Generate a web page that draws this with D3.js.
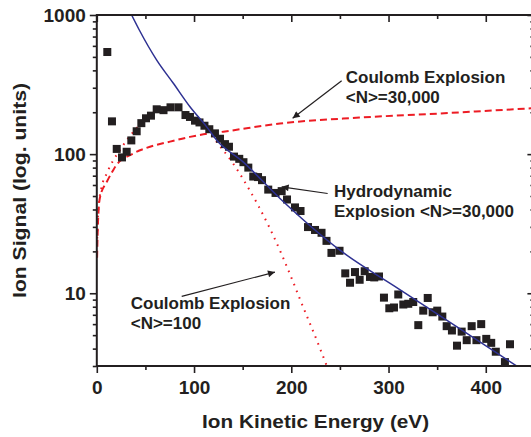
<!DOCTYPE html>
<html>
<head>
<meta charset="utf-8">
<script src="https://cdn.jsdelivr.net/npm/d3@7/dist/d3.min.js"></script>
<style>
  html, body { margin: 0; padding: 0; background: #fff; }
  svg text { font-family: "Liberation Sans", Arial, Helvetica, sans-serif; font-weight: bold; fill: #231f20; }
</style>
</head>
<body>
<svg id="chart" width="531" height="437"></svg>
<script>
// Measured ion signal vs. kinetic energy (eV)
const energy = [10.8, 15.6, 20.5, 25.9, 30.7, 35.5, 41.0, 45.8, 50.6, 55.7, 61.6, 68.6, 75.8, 84.0,
  91.2, 95.8, 101.0, 105.6, 110.7, 115.7, 121.5, 126.7, 131.8, 135.9, 141.1, 146.5, 150.8, 155.8,
  160.9, 165.8, 169.9, 176.3, 183.8, 190.1, 195.6, 203.8, 209.5, 217.2, 224.4, 231.1, 236.2, 241.3,
  249.6, 255.5, 260.4, 265.5, 270.3, 275.5, 280.9, 285.3, 290.2, 295.3, 300.8, 305.6, 310.0, 315.2,
  320.3, 325.4, 330.6, 335.7, 340.3, 345.4, 350.1, 355.3, 359.8, 365.2, 370.4, 375.2, 380.4, 385.5,
  390.4, 395.3, 400.5, 405.6, 410.3, 419.7, 424.9];
const signal = [542, 172, 109, 94.7, 104, 125.5, 146, 167, 181, 189, 210, 207, 217, 217,
  191, 185, 174, 169, 160, 151, 141, 129, 118, 113, 96, 92.5, 87.5, 80,
  69, 68.4, 65, 55.6, 52.6, 54.2, 47.2, 41.4, 39, 29.9, 28.5, 27.2, 23.8, 19.5,
  20.2, 13.9, 11.9, 14.2, 12.5, 14.4, 13.1, 13.0, 13.2, 9.3, 7.8, 7.9, 9.8, 8.3,
  8.4, 8.65, 5.9, 7.5, 9.25, 7.3, 7.5, 6.8, 5.8, 5.4, 4.2, 5.3, 4.6, 5.8,
  4.6, 6.0, 4.7, 4.4, 3.8, 3.2, 4.3];

// Hydrodynamic explosion model, <N>=30,000
const hydroE = [35.8, 43.7, 61.6, 78.7, 95.8, 113, 123.3, 150.4, 188.4, 250, 310, 370, 433.4];
const hydroS = [1000, 780, 474, 323, 219, 157, 126, 88, 48, 20.4, 10.8, 5.75, 2.95];

// Coulomb explosion model, <N>=30,000
const ce30kE = [0.3, 1.2, 3.3, 10.2, 17.0, 20.5, 37.5, 54.7, 75.3, 95.8, 116.4, 130.1, 188.4, 270, 352.8, 450];
const ce30kS = [18, 32, 49, 63, 77, 84, 101, 113, 123, 133, 141, 145, 166, 183, 196, 214];

// Coulomb explosion model, <N>=100
const ce100E = [0.2, 1.5, 5, 10.2, 17, 23.9, 30.7, 41, 50.6, 61.6, 75, 85.5, 95.8, 110, 128,
  139, 147, 156, 166, 178, 190, 202, 208, 228, 235, 237];
const ce100S = [22, 39.5, 58, 72.6, 90.5, 107, 126, 154, 184, 204, 213, 211, 191, 157, 111,
  88, 72.4, 56.9, 42.7, 29.2, 19.1, 12.0, 9.4, 4.27, 3.2, 2.95];

const xMajor = [0, 100, 200, 300, 400];
const xMinor = [50, 150, 250, 350, 450];
const yMajor = [10, 100, 1000];
const yMinor = [3, 4, 5, 6, 7, 8, 9, 20, 30, 40, 50, 60, 70, 80, 90, 200, 300, 400, 500, 600, 700, 800, 900];

const xTitle = "Ion Kinetic Energy (eV)";
const yTitle = "Ion Signal (log. units)";

// Annotation labels with their text anchor and arrow (tail -> head), in data units
const notes = [
  { lines: ["Coulomb Explosion", "<N>=30,000"], at: [256, 324], from: [251.8, 337], to: [201.4, 181] },
  { lines: ["Hydrodynamic", "Explosion <N>=30,000"], at: [243.9, 49.3], from: [237.4, 52.1], to: [190.1, 58.2] },
  { lines: ["Coulomb Explosion", "<N>=100"], at: [34.9, 7.76], from: [87.3, 9.5], to: [183.2, 14.2] }
];

const ink = "#231f20";
const svg = d3.select("#chart");

const x = d3.scaleLinear().domain([0, 450]).range([96.8, 534.4]);
const y = d3.scaleLog().domain([3, 1000]).range([366, 15]);
const [x0, x1] = x.range();
const [y0, y1] = y.range();

svg.append("defs").append("clipPath").attr("id", "plot")
  .append("rect").attr("x", x0).attr("y", y1).attr("width", x1 - x0).attr("height", y0 - y1);

svg.select("defs").append("marker")
  .attr("id", "head").attr("viewBox", "0 0 10 10")
  .attr("refX", 10).attr("refY", 5)
  .attr("markerUnits", "userSpaceOnUse")
  .attr("markerWidth", 12).attr("markerHeight", 7)
  .attr("orient", "auto")
  .append("path").attr("d", "M0,0 L10,5 L0,10 Z").attr("fill", ink);

const plot = svg.append("g").attr("clip-path", "url(#plot)");

const lineOf = (es, ss) => d3.line()
  .x((d, i) => x(es[i])).y((d, i) => y(ss[i]))
  .curve(d3.curveMonotoneX)(es);

// model curves
plot.append("path").attr("d", lineOf(ce30kE, ce30kS))
  .attr("fill", "none").attr("stroke", "#ed1c24").attr("stroke-width", 2)
  .attr("stroke-dasharray", "7,4");
plot.append("path").attr("d", lineOf(ce100E, ce100S))
  .attr("fill", "none").attr("stroke", "#ed1c24").attr("stroke-width", 2)
  .attr("stroke-dasharray", "1.6,5.5");

// data squares
const sq = 8;
plot.append("g").selectAll("rect").data(energy).join("rect")
  .attr("x", (d, i) => x(d) - sq / 2)
  .attr("y", (d, i) => y(signal[i]) - sq / 2)
  .attr("width", sq).attr("height", sq)
  .attr("fill", ink);

plot.append("path").attr("d", lineOf(hydroE, hydroS))
  .attr("fill", "none").attr("stroke", "#2e3192").attr("stroke-width", 1.5);

// axes: outward ticks on left/bottom, inward ticks on top/right
const styleAxis = g => {
  g.select(".domain").remove();
  g.selectAll("line").attr("stroke", ink).attr("stroke-width", 1.6);
  g.selectAll("text").attr("font-size", 19).attr("fill", ink)
    .attr("font-family", "'Liberation Sans', Arial, sans-serif").attr("font-weight", "bold");
};

svg.append("g").attr("transform", `translate(0,${y0})`)
  .call(d3.axisBottom(x).tickValues(xMajor).tickSize(7).tickPadding(7.5).tickFormat(d3.format("d")))
  .call(styleAxis);
svg.append("g").attr("transform", `translate(0,${y0})`)
  .call(d3.axisBottom(x).tickValues(xMinor).tickSize(4).tickFormat(""))
  .call(styleAxis);
svg.append("g").attr("transform", `translate(0,${y1})`)
  .call(d3.axisTop(x).tickValues(xMajor).tickSize(-7).tickFormat(""))
  .call(styleAxis);
svg.append("g").attr("transform", `translate(0,${y1})`)
  .call(d3.axisTop(x).tickValues(xMinor).tickSize(-4).tickFormat(""))
  .call(styleAxis);

svg.append("g").attr("transform", `translate(${x0},0)`)
  .call(d3.axisLeft(y).tickValues(yMajor).tickSize(7).tickPadding(4).tickFormat(d3.format("d")))
  .call(styleAxis);
svg.append("g").attr("transform", `translate(${x0},0)`)
  .call(d3.axisLeft(y).tickValues(yMinor).tickSize(4).tickFormat(""))
  .call(styleAxis);
svg.append("g").attr("transform", `translate(${x1},0)`)
  .call(d3.axisRight(y).tickValues(yMajor).tickSize(-7).tickFormat(""))
  .call(styleAxis);
svg.append("g").attr("transform", `translate(${x1},0)`)
  .call(d3.axisRight(y).tickValues(yMinor).tickSize(-4).tickFormat(""))
  .call(styleAxis);

// frame
svg.append("rect").attr("x", x0).attr("y", y1).attr("width", x1 - x0).attr("height", y0 - y1)
  .attr("fill", "none").attr("stroke", ink).attr("stroke-width", 2);

// axis titles
svg.append("text").attr("x", (x0 + x1) / 2).attr("y", 427.5)
  .attr("text-anchor", "middle").attr("font-size", 19)
  .attr("textLength", 227).attr("lengthAdjust", "spacingAndGlyphs")
  .text(xTitle);
svg.append("text")
  .attr("transform", `translate(26,${(y0 + y1) / 2}) rotate(-90)`)
  .attr("text-anchor", "middle").attr("font-size", 19)
  .attr("textLength", 215).attr("lengthAdjust", "spacingAndGlyphs")
  .text(yTitle);

// annotations
const ann = svg.append("g");
notes.forEach(n => {
  ann.append("line")
    .attr("x1", x(n.from[0])).attr("y1", y(n.from[1]))
    .attr("x2", x(n.to[0])).attr("y2", y(n.to[1]))
    .attr("stroke", ink).attr("stroke-width", 1.2)
    .attr("marker-end", "url(#head)");
  const t = ann.append("text").attr("font-size", 17)
    .attr("x", x(n.at[0])).attr("y", y(n.at[1]));
  n.lines.forEach((s, i) => t.append("tspan")
    .attr("x", x(n.at[0])).attr("dy", i === 0 ? 0 : 20).text(s));
});
</script>
</body>
</html>
